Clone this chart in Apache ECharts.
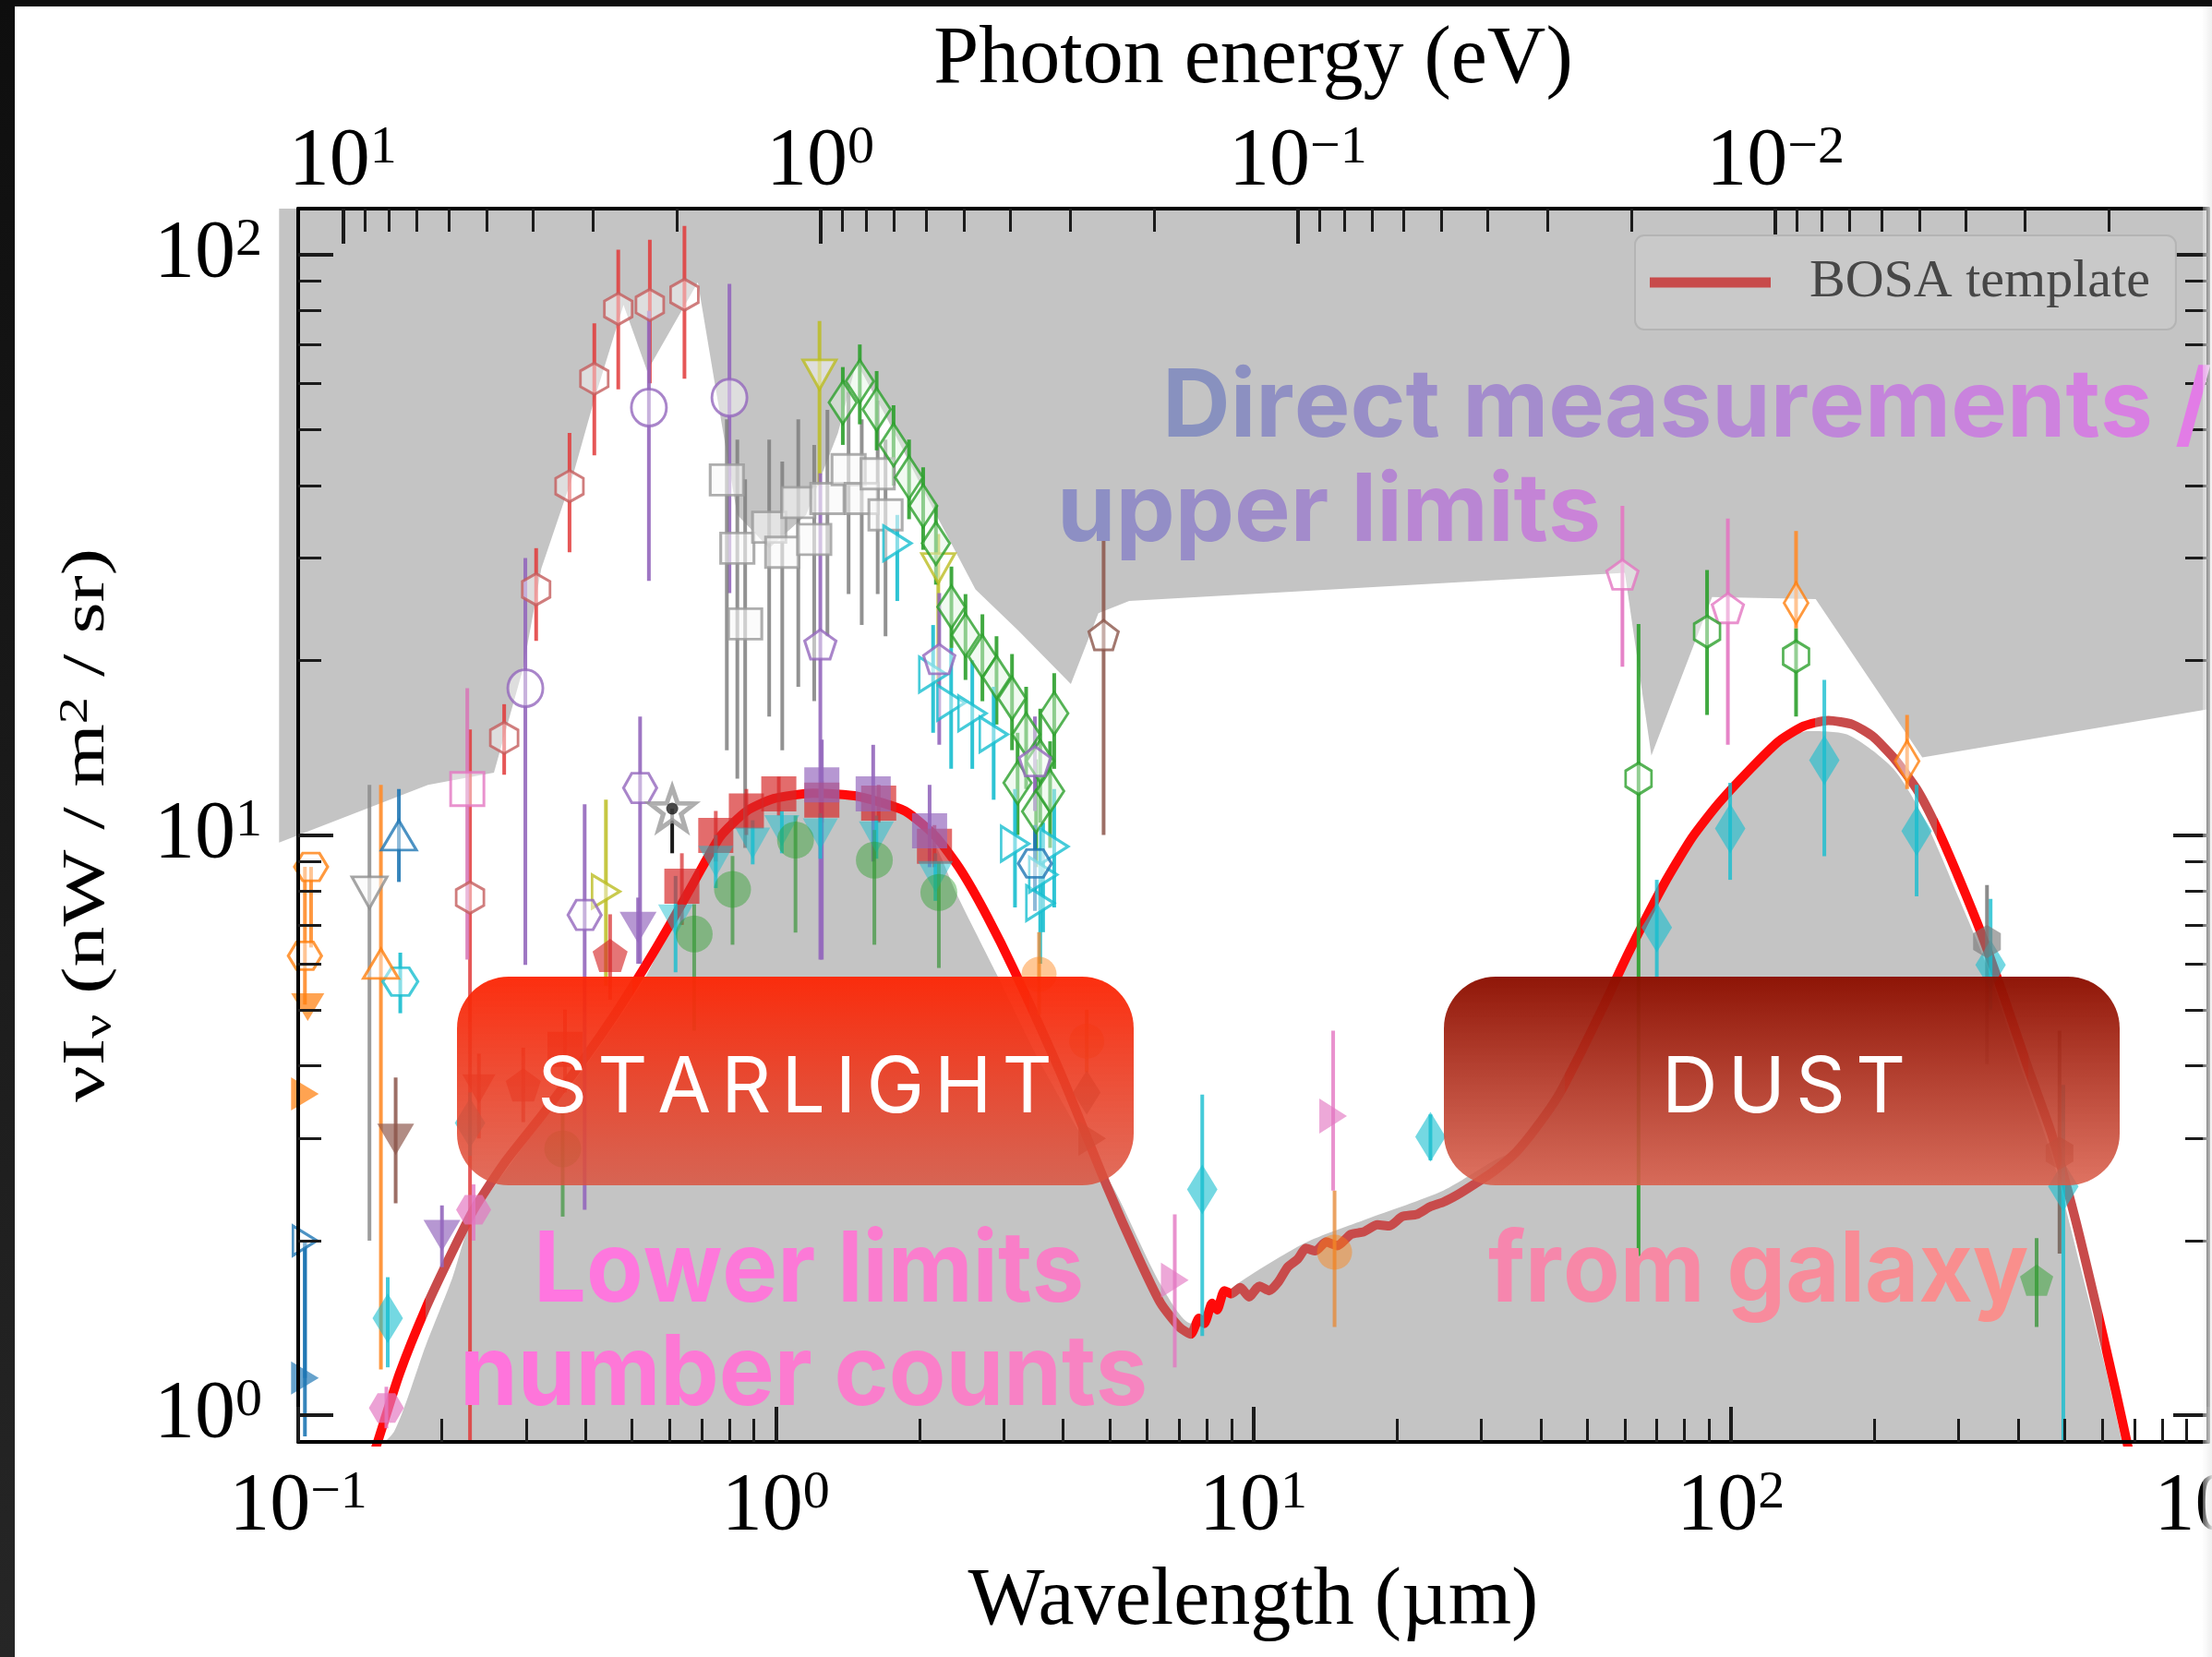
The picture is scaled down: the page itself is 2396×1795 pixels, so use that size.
<!DOCTYPE html>
<html>
<head>
<meta charset="utf-8">
<title>Extragalactic background light</title>
<script src="https://cdn.jsdelivr.net/npm/echarts@6/dist/echarts.min.js"></script>
<style>
  html, body { margin: 0; padding: 0; background: #fff; overflow: hidden; }
  #chart { position: absolute; left: 0; top: 0; width: 2396px; height: 1795px; }
  .frame-top { position: absolute; left: 0; top: 0; width: 2396px; height: 7px; background: #0e0e0e; z-index: 5; }
  .frame-left { position: absolute; left: 0; top: 0; width: 16px; height: 1795px; background: linear-gradient(#0e0e0e, #262626); z-index: 5; }
  .edge-right { position: absolute; left: 2386px; top: 7px; width: 10px; height: 1788px;
    background: linear-gradient(to right, rgba(250,250,250,0.35), rgba(238,238,238,0.9)); z-index: 5; }
</style>
</head>
<body>
<div id="chart"></div>
<div class="frame-top"></div>
<div class="frame-left"></div>
<div class="edge-right"></div>
<script>
// ---------------------------------------------------------------------------
// Extragalactic background light: νIν (nW m^-2 sr^-1) against wavelength (µm)
// ---------------------------------------------------------------------------
const HC = 1.23984;               // eV·µm, photon energy E = HC / λ
const lg = Math.log10;

// decade exponents carrying major ticks and labels
const wavelengthDecades = [-1, 0, 1, 2, 3];
const energyDecades = [1, 0, -1, -2];
const intensityDecades = [0, 1, 2];

const wavelengthRange = [0.1, 1000];   // µm
const intensityRange = [0.9, 120];     // nW / m^2 / sr

// BOSA template  [λ µm, νIν]
const bosaTemplate = [
  [0.140, 0.80], [0.147, 0.905], [0.163, 1.18], [0.185, 1.53], [0.210, 1.91], [0.233, 2.26],
  [0.271, 2.73], [0.324, 3.29], [0.400, 4.15], [0.460, 4.90], [0.527, 5.85], [0.600, 7.00],
  [0.680, 8.40], [0.766, 9.95], [0.870, 11.00], [0.990, 11.55], [1.195, 11.80], [1.490, 11.65],
  [1.865, 11.00], [2.160, 9.95], [2.440, 8.70], [2.770, 7.25], [3.155, 5.85], [3.970, 3.85],
  [4.940, 2.48], [5.730, 1.88], [6.400, 1.56], [7.000, 1.42], [7.400, 1.38], [7.700, 1.47],
  [7.900, 1.44], [8.200, 1.56], [8.400, 1.52], [8.700, 1.64], [9.000, 1.62], [9.400, 1.66],
  [9.800, 1.60], [10.30, 1.67], [10.80, 1.64], [11.30, 1.70], [11.80, 1.80], [12.40, 1.86],
  [12.90, 1.94], [13.50, 1.92], [14.20, 1.99], [15.00, 1.96], [16.00, 2.05], [17.00, 2.07],
  [18.20, 2.13], [19.30, 2.12], [20.50, 2.20], [22.00, 2.22], [23.50, 2.29], [25.00, 2.33],
  [26.80, 2.40], [29.00, 2.50], [32.00, 2.64], [35.50, 2.84], [39.00, 3.12], [43.50, 3.55],
  [48.40, 4.20], [54.00, 5.05], [61.00, 6.25], [72.60, 8.25], [83.00, 9.90], [94.00, 11.30],
  [110.0, 13.00], [126.0, 14.50], [142.0, 15.40], [160.0, 15.75], [180.0, 15.50], [198.0, 14.80],
  [219.0, 13.60], [245.0, 12.00], [270.0, 10.30], [300.0, 8.45], [335.0, 6.75], [375.0, 5.20],
  [420.0, 3.95], [470.0, 3.05], [525.0, 2.20], [585.0, 1.52], [640.0, 1.10], [690.0, 0.83]
];

// lower edge of the excluded region from direct measurements / upper limits  [λ, νIν]
const upperLimitEdge = [
  [0.0912, 9.7], [0.187, 12.2], [0.257, 12.8], [0.296, 19.4], [0.323, 28.8], [0.377, 41.9],
  [0.417, 56.3], [0.480, 81.9], [0.538, 63.0], [0.687, 89.6], [0.750, 58.2], [0.831, 35.6],
  [0.969, 31.2], [1.158, 35.6], [1.350, 49.3], [1.476, 65.2], [1.700, 52.7], [2.080, 38.0],
  [2.620, 26.5], [3.220, 22.5], [4.150, 18.2], [4.740, 24.1], [5.500, 25.3], [60.0, 28.3],
  [68.2, 13.7], [91.4, 25.7], [150.6, 25.5], [251.8, 13.6], [1011, 16.5]
];

// upper edge of the region fixed by galaxy number counts (lower limits)  [λ, νIν]
const lowerLimitEdge = [
  [0.140, 0.85], [0.159, 0.94], [0.185, 1.32], [0.210, 1.72], [0.230, 2.15], [0.300, 2.95],
  [0.400, 4.00], [0.536, 5.73], [0.641, 7.87], [0.711, 9.22], [0.800, 10.55], [1.030, 11.60],
  [1.386, 11.70], [1.865, 11.00], [2.130, 9.80], [2.400, 7.87], [2.910, 5.73], [3.500, 4.20],
  [4.300, 3.10], [5.130, 2.44], [6.400, 1.68], [7.410, 1.44], [9.120, 1.67], [12.80, 1.98],
  [17.30, 2.18], [25.00, 2.44], [32.00, 2.75], [38.00, 2.95], [48.00, 4.10], [58.00, 5.60],
  [72.60, 8.30], [94.00, 11.10], [126.0, 14.20], [145.0, 15.10], [175.0, 14.90], [219.0, 13.00],
  [255.0, 10.60], [300.0, 7.80], [345.0, 5.90], [400.0, 4.10], [470.0, 2.80], [540.0, 1.80],
  [610.0, 1.20], [670.0, 0.85]
];

// measurements  [λ µm, νIν, lower end, upper end]
const directHexRed = [[0.229, 7.8, 0.9, 15.2], [0.270, 14.7, 12.7, 16.8], [0.315, 26.5, 21.6, 31.2],
  [0.370, 39.9, 30.7, 49.3], [0.417, 61.1, 45.1, 76.1], [0.468, 80.6, 58.6, 102], [0.545, 81.9, 60.0, 106],
  [0.644, 85.3, 61.1, 112]];
const directCirclePurple = [[0.299, 17.9, 5.97, 30.0], [0.5425, 54.5, 27.4, 80.0], [0.80, 56.7, 26.1, 89.0]];
const directSquareGrey = [[0.790, 40.9, 14.0, 52.0], [0.831, 31.2, 12.5, 48.0], [0.863, 23.1, 9.5, 41.0],
  [0.969, 33.9, 16.0, 48.0], [1.032, 30.7, 14.0, 44.0], [1.115, 37.4, 18.0, 52.0], [1.204, 32.3, 17.0, 47.0],
  [1.283, 38.0, 22.0, 54.0], [1.421, 42.6, 26.0, 58.0], [1.514, 38.0, 23.0, 52.0], [1.635, 41.9, 26.0, 56.0],
  [1.698, 35.6, 22.0, 48.0]];
const directSquarePink = [[0.226, 12.0, 6.1, 17.9]];
const directTriDownOlive = [[1.235, 62.1, 40.0, 76.8], [2.19, 28.8, 18.0, 33.0]];
const directTriRightOlive = [[0.441, 7.99, 5.5, 11.5]];
const directDiamondGreen = [[1.382, 55.6, 47, 64], [1.50, 60.5, 51, 70], [1.627, 54.1, 46, 63],
  [1.765, 47.0, 40, 55], [1.902, 41.3, 35, 48], [2.036, 36.9, 31, 43], [2.165, 31.8, 27, 37],
  [2.333, 24.7, 21, 29], [2.497, 22.1, 18.5, 26], [2.709, 20.3, 17, 24], [2.90, 18.7, 15.5, 22],
  [3.125, 17.2, 14, 20.5], [3.345, 14.9, 12, 18], [3.58, 13.4, 10.5, 16.5], [3.83, 16.2, 13, 19],
  [3.21, 12.3, 10, 15], [3.51, 10.98, 8.8, 13.5], [3.755, 11.9, 9.5, 14.5]];
const directTriRightCyan = [[1.797, 31.8, 25.3, 35.6], [2.136, 18.9, 15, 23], [2.33, 16.9, 13, 21],
  [2.58, 16.2, 13, 20], [2.86, 14.9, 11.5, 18], [3.17, 9.66, 7.5, 12], [3.58, 7.63, 6, 9.5],
  [3.83, 9.55, 7.5, 12], [3.63, 8.54, 6.8, 10.5]];
const directHexCyan = [[0.1636, 5.59, 4.93, 6.27]];
const directHexBlue = [[3.49, 8.93, 7.4, 10.4]];
const directPentBrown = [[4.86, 22.1, 10.0, 34.0]];
const directPentPurple = [[1.24, 21.3, 6.1, 42.0], [2.20, 20.1, 14.3, 26.1], [3.49, 13.4, 11.0, 16.0]];
const directHexPurple = [[0.398, 7.28, 2.26, 11.3], [0.52, 12.05, 6.0, 16.0]];
const directStarGrey = [[0.607, 11.1, 11.1, 11.1]];
const directDotBlack = [[0.607, 11.1, 9.3, 11.1]];
const directTriDownGrey = [[0.141, 7.96, 2.0, 12.2]];
const directTriUpOrange = [[0.149, 6.0, 1.2, 12.2]];
const directTriUpBlue = [[0.1625, 9.99, 8.3, 12.0]];
const directHexOrange = [[0.1064, 8.81, 6.4, 8.81], [0.1033, 6.19, 5.1, 8.81]];
const directTriRightBlue = [[0.1033, 2.0, 1.16, 2.0]];
const directPentPink = [[59.3, 28.1, 19.5, 36.9], [98.6, 24.6, 14.3, 35.1]];
const directHexGreen = [[64.1, 12.5, 1.88, 23.1], [89.2, 22.4, 16.1, 28.6], [137, 20.3, 16.0, 22.7]];
const directDiamondOrange = [[137, 25.1, 22.7, 33.4], [234, 13.4, 12.0, 16.1]];

const countSquareRed = [[0.362, 4.27, 3.6, 5.0], [0.636, 8.16, 7.0, 9.3], [0.749, 9.98, 9.0, 11.0],
  [0.868, 11.0, 10.0, 12.0], [1.015, 11.77, 10.8, 12.6], [1.249, 11.48, 10.5, 12.4],
  [1.643, 11.35, 10.5, 12.2], [2.15, 9.56, 8.8, 10.4]];
const countSquarePurple = [[1.249, 12.2, 6.1, 14.6], [1.60, 11.77, 9.0, 14.3], [2.10, 10.17, 8.8, 12.2]];
const countTriDownCyan = [[0.617, 7.13, 5.8, 8.5], [0.749, 9.0, 8.1, 10.0], [0.895, 9.68, 8.9, 10.6],
  [1.03, 10.17, 9.3, 11.0], [1.24, 10.04, 9.1, 10.9], [1.625, 9.92, 9.1, 10.8], [2.16, 8.47, 7.7, 9.3]];
const countCircleGreen = [[0.358, 2.88, 2.2, 3.4], [0.675, 6.75, 4.6, 7.6], [0.812, 8.06, 6.47, 9.2],
  [1.10, 9.8, 6.79, 10.8], [1.609, 9.05, 6.47, 10.2], [2.196, 7.96, 5.9, 9.0]];
const countPentRed = [[0.296, 3.71, 3.2, 4.3], [0.45, 6.2, 5.2, 7.3]];
const countTriDownRed = [[0.239, 3.65, 3.0, 4.2]];
const countTriDownPurple = [[0.20, 2.04, 1.8, 2.3], [0.515, 6.93, 6.0, 7.8]];
const countTriDownBrown = [[0.16, 2.99, 2.32, 3.82]];
const countDiamondCyan = [[0.154, 1.47, 1.21, 1.73], [0.229, 3.19, 2.8, 3.6], [7.82, 2.45, 1.37, 3.57],
  [23.5, 3.02, 2.75, 3.3], [70, 6.93, 5.7, 8.37], [99.7, 10.26, 8.37, 12.3], [157, 13.45, 9.19, 18.5],
  [245, 10.16, 7.84, 12.2], [350, 5.97, 5.0, 7.76], [497, 2.48, 0.9, 3.71]];
const countHexPink = [[0.153, 1.03, 0.95, 1.12], [0.233, 2.26, 2.0, 2.5]];
const countCircleOrange = [[3.56, 5.75, 4.9, 6.8], [4.48, 4.41, 3.9, 5.0], [14.8, 1.91, 1.42, 2.44]];
const countTriRightPink = [[6.85, 1.71, 1.21, 2.22], [14.7, 3.28, 2.44, 4.6]];
const countHexGrey = [[344, 6.55, 4.03, 8.2]];
const countHexBrown = [[488, 2.83, 1.9, 4.6]];
const countDiamondGrey = [[4.48, 3.6, 3.1, 4.1]];
const countTriRightBrown = [[4.6, 3.0, 2.6, 3.4]];
const countPentGreen = [[437, 1.71, 1.42, 2.02]];
const countTriDownOrange = [[0.1047, 5.05, 5.05, 5.05]];
const countTriRightOrange = [[0.1033, 3.58, 3.58, 3.58]];
const countTriRightBlue = [[0.1033, 1.16, 0.92, 2.0]];

// ---------------------------------------------------------------------------
// styling
// ---------------------------------------------------------------------------
const SERIF = '"Liberation Serif", "Times New Roman", serif';
const SANS = 'Inter, "Noto Sans", sans-serif';
const GRID = { left: 323, right: 4, top: 226, bottom: 233 };
const SHADE_LEFT = 302;          // the shaded exclusion band starts a little left of the frame
const CHART_W = 2396;
const TICK = '#1b1b1b';
const REGION_GREY = '#c4c4c4';

const SYM = {
  hexV: 'path://M0,-100 L86.6,-50 L86.6,50 L0,100 L-86.6,50 L-86.6,-50 Z',
  hexH: 'path://M-100,0 L-50,-86.6 L50,-86.6 L100,0 L50,86.6 L-50,86.6 Z',
  pent: 'path://M0,-100 L95.1,-30.9 L58.8,80.9 L-58.8,80.9 L-95.1,-30.9 Z',
  star: 'path://M0,-100 L23.5,-32.4 L95.1,-30.9 L38,13.2 L58.8,80.9 L0,40 L-58.8,80.9 L-38,13.2 L-95.1,-30.9 L-23.5,-32.4 Z',
  triUp: 'path://M0,-100 L100,73 L-100,73 Z',
  triDown: 'path://M-100,-73 L100,-73 L0,100 Z',
  triRight: 'path://M-73,-100 L100,0 L-73,100 Z',
  diamond: 'diamond', square: 'rect', circle: 'circle'
};

const OPEN_FILL = 'rgba(255,255,255,0.55)';
const markerGroups = [
  // direct measurements / upper limits (open markers)
  { data: directHexRed, sym: SYM.hexV, size: [30, 34], edge: '#c45c5c', bar: 'rgba(226,58,58,0.85)' },
  { data: directCirclePurple, sym: SYM.circle, size: [38, 40], edge: '#9467bd', bar: 'rgba(148,103,189,0.9)' },
  { data: directSquareGrey, sym: SYM.square, size: [36, 33], edge: '#9a9a9a', fill: 'rgba(248,248,248,0.75)', bar: 'rgba(127,127,127,0.85)' },
  { data: directSquarePink, sym: SYM.square, size: [36, 36], edge: '#e377c2', bar: 'rgba(215,122,184,0.9)' },
  { data: directTriDownOlive, sym: SYM.triDown, size: [36, 32], edge: '#bcbd22', bar: 'rgba(188,189,34,0.85)' },
  { data: directTriRightOlive, sym: SYM.triRight, size: [30, 36], edge: '#bcbd22', bar: 'rgba(188,189,34,0.85)' },
  { data: directDiamondGreen, sym: SYM.diamond, size: [30, 46], edge: '#2ca02c', fill: 'rgba(225,245,225,0.6)', bar: 'rgba(44,160,44,0.9)' },
  { data: directTriRightCyan, sym: SYM.triRight, size: [30, 38], edge: '#17becf', bar: 'rgba(23,190,207,0.9)' },
  { data: directHexCyan, sym: SYM.hexH, size: [38, 30], edge: '#17becf', bar: 'rgba(23,190,207,0.9)' },
  { data: directHexBlue, sym: SYM.hexH, size: [36, 30], edge: '#1f77b4', bar: 'rgba(31,119,180,0.9)' },
  { data: directPentBrown, sym: SYM.pent, size: [32, 32], edge: '#8c564b', bar: 'rgba(140,86,75,0.85)' },
  { data: directPentPurple, sym: SYM.pent, size: [34, 32], edge: '#9467bd', bar: 'rgba(148,103,189,0.9)' },
  { data: directHexPurple, sym: SYM.hexH, size: [36, 32], edge: '#9467bd', bar: 'rgba(148,103,189,0.9)' },
  { data: directStarGrey, sym: SYM.star, size: [48, 46], edge: '#9a9a9a', fill: 'rgba(255,255,255,0.8)', width: 5, bar: '#999' },
  { data: directDotBlack, sym: SYM.circle, size: [13, 13], filled: 'rgba(15,15,15,0.95)', bar: 'rgba(15,15,15,0.95)' },
  { data: directTriDownGrey, sym: SYM.triDown, size: [38, 34], edge: '#8f8f8f', fill: 'rgba(250,250,250,0.7)', bar: 'rgba(140,140,140,0.85)' },
  { data: directTriUpOrange, sym: SYM.triUp, size: [38, 32], edge: '#ff7f0e', bar: 'rgba(255,140,42,0.9)' },
  { data: directTriUpBlue, sym: SYM.triUp, size: [38, 32], edge: '#1f77b4', bar: 'rgba(31,119,180,0.9)' },
  { data: directHexOrange, sym: SYM.hexH, size: [36, 30], edge: '#ff7f0e', bar: 'rgba(255,140,42,0.9)' },
  { data: directTriRightBlue, sym: SYM.triRight, size: [26, 32], edge: '#1f77b4', bar: 'rgba(31,119,180,0.9)' },
  { data: directPentPink, sym: SYM.pent, size: [34, 32], edge: '#e377c2', bar: 'rgba(227,119,194,0.9)' },
  { data: directHexGreen, sym: SYM.hexV, size: [28, 34], edge: '#2ca02c', bar: 'rgba(44,160,44,0.9)' },
  { data: directDiamondOrange, sym: SYM.diamond, size: [26, 44], edge: '#ff7f0e', bar: 'rgba(255,140,42,0.9)' },
  // galaxy number counts / lower limits (filled markers)
  { data: countTriDownOrange, sym: SYM.triDown, size: [36, 30], filled: 'rgba(255,127,14,0.9)' },
  { data: countTriRightOrange, sym: SYM.triRight, size: [30, 36], filled: 'rgba(255,127,14,0.9)' },
  { data: countTriRightBlue, sym: SYM.triRight, size: [30, 36], filled: 'rgba(31,119,180,0.85)', bar: 'rgba(31,119,180,0.9)' },
  { data: countSquareRed, sym: SYM.square, size: [38, 38], filled: 'rgba(214,39,40,0.85)', bar: 'rgba(214,39,40,0.7)' },
  { data: countSquarePurple, sym: SYM.square, size: [38, 38], filled: 'rgba(148,103,189,0.85)', bar: 'rgba(148,103,189,0.9)' },
  { data: countTriDownCyan, sym: SYM.triDown, size: [38, 34], filled: 'rgba(23,190,207,0.6)', bar: 'rgba(23,190,207,0.8)' },
  { data: countCircleGreen, sym: SYM.circle, size: [40, 40], filled: 'rgba(44,160,44,0.55)', bar: 'rgba(60,150,60,0.7)' },
  { data: countPentRed, sym: SYM.pent, size: [38, 36], filled: 'rgba(214,39,40,0.8)', bar: 'rgba(214,39,40,0.7)' },
  { data: countTriDownRed, sym: SYM.triDown, size: [36, 32], filled: 'rgba(214,39,40,0.8)', bar: 'rgba(214,39,40,0.7)' },
  { data: countTriDownPurple, sym: SYM.triDown, size: [40, 34], filled: 'rgba(148,103,189,0.85)', bar: 'rgba(148,103,189,0.9)' },
  { data: countTriDownBrown, sym: SYM.triDown, size: [40, 34], filled: 'rgba(140,86,75,0.85)', bar: 'rgba(140,86,75,0.85)' },
  { data: countDiamondCyan, sym: SYM.diamond, size: [33, 54], filled: 'rgba(23,190,207,0.75)', bar: 'rgba(23,190,207,0.8)' },
  { data: countHexPink, sym: SYM.hexH, size: [38, 32], filled: 'rgba(227,119,194,0.85)', bar: 'rgba(227,119,194,0.8)' },
  { data: countCircleOrange, sym: SYM.circle, size: [38, 38], filled: 'rgba(255,127,14,0.55)', bar: 'rgba(230,140,60,0.8)' },
  { data: countTriRightPink, sym: SYM.triRight, size: [30, 38], filled: 'rgba(227,119,194,0.8)', bar: 'rgba(227,119,194,0.8)' },
  { data: countHexGrey, sym: SYM.hexV, size: [30, 36], filled: 'rgba(120,120,120,0.8)', bar: 'rgba(110,110,110,0.8)' },
  { data: countHexBrown, sym: SYM.hexV, size: [30, 36], filled: 'rgba(140,86,75,0.8)', bar: 'rgba(110,90,80,0.8)' },
  { data: countDiamondGrey, sym: SYM.diamond, size: [30, 48], filled: 'rgba(110,110,110,0.8)' },
  { data: countTriRightBrown, sym: SYM.triRight, size: [30, 38], filled: 'rgba(140,86,75,0.85)' },
  { data: countPentGreen, sym: SYM.pent, size: [36, 34], filled: 'rgba(44,160,44,0.6)', bar: 'rgba(60,150,60,0.8)' }
];

// the template stroke alternates between a bright and a muted red along λ (µm)
const TEMPLATE_BRIGHT = '#ff0a0a';
const TEMPLATE_MUTED = '#c84b4b';
const templateToneBreaks = [0.185, 0.5, 3.4, 7.45, 9, 45, 150, 270, 420, 600];

// ---------------------------------------------------------------------------
const xMin = lg(wavelengthRange[0]), xMax = lg(wavelengthRange[1]);
const yMin = lg(intensityRange[0]), yMax = lg(intensityRange[1]);
const eMin = lg(HC) - xMax, eMax = lg(HC) - xMin;
const pxPerDecade = (CHART_W - GRID.right - GRID.left) / (xMax - xMin);
const shadeXMin = xMin - (GRID.left - SHADE_LEFT) / pxPerDecade;

function minorTicks(from, to) {
  const out = [];
  for (let n = from; n < to; n++) for (let k = 2; k <= 9; k++) out.push(n + lg(k));
  return out;
}
const toLog = pts => pts.map(p => [lg(p[0]), lg(p[1])]);

const powerRich = {
  b: { fontFamily: SERIF, fontSize: 88, lineHeight: 88, color: '#000', verticalAlign: 'bottom' },
  s: { fontFamily: SERIF, fontSize: 58, lineHeight: 40, color: '#000', verticalAlign: 'top' }
};
function powerLabel(v) {
  const e = Math.round(v);
  return '{b|10}{s|' + (e < 0 ? '\u2212' + (-e) : String(e)) + '}';
}

function majorAxis(opt) {
  return Object.assign({
    type: 'value', z: 6, splitLine: { show: false },
    axisLine: { show: true, onZero: false, lineStyle: { color: '#000', width: 4 } },
    axisTick: { show: true, inside: true, length: 38, lineStyle: { color: TICK, width: 4 } },
    axisLabel: { show: false }
  }, opt);
}
function minorAxis(opt, ticks) {
  return Object.assign({
    type: 'value', z: 6, splitLine: { show: false },
    axisLine: { show: false, onZero: false },
    axisTick: { show: true, inside: true, length: 25, lineStyle: { color: TICK, width: 3 }, customValues: ticks },
    axisLabel: { show: false }
  }, opt);
}

function toneStops() {
  const stops = [{ offset: 0, color: TEMPLATE_BRIGHT }];
  let bright = true;
  templateToneBreaks.forEach(b => {
    const f = (lg(b) - xMin) / (xMax - xMin);
    stops.push({ offset: f, color: bright ? TEMPLATE_BRIGHT : TEMPLATE_MUTED });
    bright = !bright;
    stops.push({ offset: f, color: bright ? TEMPLATE_BRIGHT : TEMPLATE_MUTED });
  });
  stops.push({ offset: 1, color: bright ? TEMPLATE_BRIGHT : TEMPLATE_MUTED });
  return stops;
}

const series = [];

// excluded region above direct measurements / upper limits (drawn on the wider shading grid)
series.push({
  type: 'line', xAxisIndex: 4, yAxisIndex: 4, data: toLog(upperLimitEdge), symbol: 'none', silent: true, clip: true, z: 1,
  lineStyle: { width: 0 }, areaStyle: { color: REGION_GREY, opacity: 1, origin: 'end' }
});
// region below galaxy number counts
series.push({
  type: 'line', data: toLog(lowerLimitEdge), symbol: 'none', silent: true, clip: true, z: 1,
  smooth: 0.25,
  lineStyle: { width: 0 }, areaStyle: { color: REGION_GREY, opacity: 1, origin: 'start' }
});
// BOSA template
series.push({
  name: 'BOSA template', type: 'line', data: toLog(bosaTemplate), symbol: 'none', clip: true, z: 3,
  smooth: 0.2,
  itemStyle: { color: TEMPLATE_MUTED },
  lineStyle: {
    width: 10, cap: 'round', join: 'round',
    color: new echarts.graphic.LinearGradient(GRID.left, 0, CHART_W - GRID.right, 0, toneStops(), true)
  }
});

markerGroups.forEach(g => {
  const bars = g.data.filter(d => d[2] !== d[3]);
  if (g.bar && bars.length) {
    series.push({
      type: 'custom', z: 4, clip: true, silent: true,
      data: bars.map(d => [lg(d[0]), lg(d[2]), lg(d[3])]),
      encode: { x: 0, y: [1, 2] },
      renderItem: (params, api) => {
        const a = api.coord([api.value(0), api.value(1)]);
        const b = api.coord([api.value(0), api.value(2)]);
        return { type: 'line', shape: { x1: a[0], y1: a[1], x2: b[0], y2: b[1] },
                 style: { stroke: g.bar, lineWidth: 4 } };
      }
    });
  }
  series.push({
    type: 'scatter', z: 5, silent: true,
    data: g.data.map(d => [lg(d[0]), lg(d[1])]),
    symbol: g.sym, symbolSize: g.size,
    itemStyle: g.filled
      ? { color: g.filled, borderColor: 'transparent', borderWidth: 0 }
      : { color: g.fill || OPEN_FILL, borderColor: g.edge, borderWidth: g.width || 3 }
  });
});

// ---------------------------------------------------------------------------
// annotation helpers
function hexToRgb(h) { const n = parseInt(h.slice(1), 16); return [(n >> 16) & 255, (n >> 8) & 255, n & 255]; }
function mixColor(stops, t) {
  const seg = Math.min(stops.length - 2, Math.floor(t * (stops.length - 1)));
  const local = t * (stops.length - 1) - seg;
  const a = hexToRgb(stops[seg]), b = hexToRgb(stops[seg + 1]);
  return 'rgb(' + a.map((v, i) => Math.round(v + (b[i] - v) * local)).join(',') + ')';
}
// one rich token per character so the fill can sweep across the word
function sweptText(x, y, text, size, colors, scaleX) {
  const chars = Array.from(text);
  const rich = {};
  let markup = '';
  chars.forEach((ch, i) => {
    const key = 'c' + i;
    rich[key] = { font: 'bold ' + size + 'px ' + SANS, fill: mixColor(colors, chars.length > 1 ? i / (chars.length - 1) : 0) };
    markup += '{' + key + '|' + ch + '}';
  });
  return {
    type: 'text', x: x, y: y, scaleX: scaleX, z: 30, silent: true,
    style: { x: 0, y: 0, text: markup, rich: rich, align: 'left', verticalAlign: 'middle', font: 'bold ' + size + 'px ' + SANS }
  };
}
// spaced capitals inside the rounded labels
function spacedText(cx, cy, text, size, spacing) {
  const chars = Array.from(text);
  const rich = {};
  let markup = '';
  chars.forEach((ch, i) => {
    const key = 'k' + i;
    rich[key] = { font: '400 ' + size + 'px ' + SANS, fill: '#ffffff', padding: [0, i < chars.length - 1 ? spacing : 0, 0, 0] };
    markup += '{' + key + '|' + ch + '}';
  });
  return {
    type: 'text', z: 26, silent: true,
    style: { x: cx, y: cy, text: markup, rich: rich, align: 'center', verticalAlign: 'middle', font: '400 ' + size + 'px ' + SANS }
  };
}
function labelBox(x, y, w, h, top, bottom) {
  return {
    type: 'rect', z: 25, silent: true,
    shape: { x: x, y: y, width: w, height: h, r: 56 },
    style: { fill: new echarts.graphic.LinearGradient(0, 0, 0, 1, [{ offset: 0, color: top }, { offset: 1, color: bottom }]) }
  };
}

const chart = echarts.init(document.getElementById('chart'), null, { renderer: 'canvas' });

chart.setOption({
  animation: false,
  backgroundColor: 'transparent',
  grid: [
    Object.assign({ outerBoundsMode: 'none', containLabel: false }, GRID),
    Object.assign({ outerBoundsMode: 'none', containLabel: false }, GRID, { left: SHADE_LEFT })
  ],
  xAxis: [
    majorAxis({
      position: 'bottom', min: xMin, max: xMax,
      axisTick: { show: true, inside: true, length: 38, lineStyle: { color: TICK, width: 4 }, customValues: wavelengthDecades },
      axisLabel: { show: true, margin: 27, customValues: wavelengthDecades, formatter: powerLabel, rich: powerRich },
      name: 'Wavelength (µm)', nameLocation: 'middle', nameGap: 130,
      nameTextStyle: { fontFamily: SERIF, fontSize: 88, color: '#000' }
    }),
    minorAxis({ position: 'bottom', min: xMin, max: xMax }, minorTicks(-1, 3)),
    majorAxis({
      position: 'top', inverse: true, min: eMin, max: eMax,
      axisTick: { show: true, inside: true, length: 38, lineStyle: { color: TICK, width: 4 }, customValues: energyDecades },
      axisLabel: { show: true, margin: 6, customValues: energyDecades, formatter: powerLabel, rich: powerRich },
      name: 'Photon energy (eV)', nameLocation: 'middle', nameGap: 116,
      nameTextStyle: { fontFamily: SERIF, fontSize: 88, color: '#000' }
    }),
    minorAxis({ position: 'top', inverse: true, min: eMin, max: eMax },
      minorTicks(-3, 2).filter(v => v > eMin && v < eMax)),
    { type: 'value', gridIndex: 1, show: false, min: shadeXMin, max: xMax }
  ],
  yAxis: [
    majorAxis({
      position: 'left', min: yMin, max: yMax,
      axisTick: { show: true, inside: true, length: 38, lineStyle: { color: TICK, width: 4 }, customValues: intensityDecades },
      axisLabel: { show: true, margin: 39, customValues: intensityDecades, formatter: powerLabel, rich: powerRich }
    }),
    minorAxis({ position: 'left', min: yMin, max: yMax }, minorTicks(-1, 3).filter(v => v > yMin && v < yMax)),
    majorAxis({
      position: 'right', min: yMin, max: yMax,
      axisTick: { show: true, inside: true, length: 38, lineStyle: { color: TICK, width: 4 }, customValues: intensityDecades }
    }),
    minorAxis({ position: 'right', min: yMin, max: yMax }, minorTicks(-1, 3).filter(v => v > yMin && v < yMax)),
    { type: 'value', gridIndex: 1, show: false, min: yMin, max: yMax }
  ],
  legend: {
    left: 1771, top: 255, padding: [22, 28, 22, 16], itemWidth: 131, itemHeight: 11, z: 10,
    backgroundColor: '#c9c9c9', borderColor: '#b4b4b4', borderWidth: 2, borderRadius: 10,
    selectedMode: false,
    textStyle: { fontFamily: SERIF, fontSize: 58, color: '#474747', padding: [0, 0, 0, 37] },
    data: [{ name: 'BOSA template', icon: 'rect', itemStyle: { color: TEMPLATE_MUTED } }]
  },
  series: series,
  graphic: [
    {
      type: 'text', x: 95, y: 894, rotation: Math.PI / 2, scaleX: 1.33, z: 30, silent: true,
      style: {
        x: 0, y: 0, align: 'center', verticalAlign: 'middle',
        text: '{a|\u03bdI}{u|\u03bd}{a| (nW / m}{p|2}{a| / sr)}',
        rich: {
          a: { fontFamily: SERIF, fontSize: 66, lineHeight: 70, fill: '#000', verticalAlign: 'middle' },
          u: { fontFamily: SERIF, fontSize: 44, lineHeight: 30, fill: '#000', verticalAlign: 'bottom' },
          p: { fontFamily: SERIF, fontSize: 44, lineHeight: 30, fill: '#000', verticalAlign: 'top' }
        }
      }
    },
    labelBox(495, 1058, 733, 226, 'rgba(252,38,5,0.96)', 'rgba(218,82,62,0.84)'),
    labelBox(1564, 1058, 732, 226, 'rgba(140,15,0,0.97)', 'rgba(218,92,72,0.86)'),
    spacedText(861, 1180, 'STARLIGHT', 84, 11),
    spacedText(1932, 1180, 'DUST', 84, 11),
    sweptText(1259, 442, 'Direct measurements /', 102, ['#8891bf', '#b08ad3', '#e27ce6'], 1),
    sweptText(1145, 555, 'upper limits', 102, ['#8d8fc4', '#ca83d8'], 1),
    sweptText(578, 1378, 'Lower limits', 106, ['#ff76e0', '#f87fc6'], 0.95),
    sweptText(498, 1490, 'number counts', 106, ['#ff74dc', '#f784c0'], 0.95),
    sweptText(1612, 1378, 'from galaxy', 106, ['#f686ae', '#f98f8c'], 0.95)
  ]
});
</script>
</body>
</html>
